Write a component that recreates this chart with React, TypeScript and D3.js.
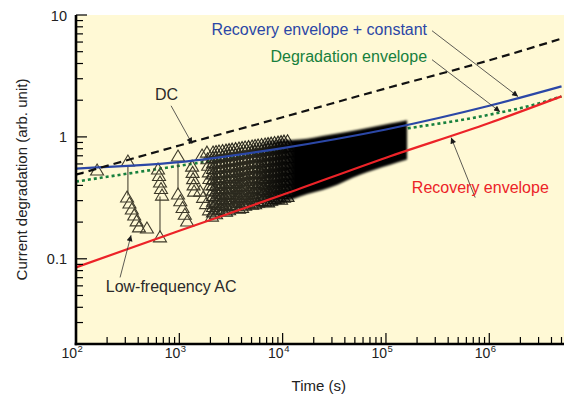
import React from 'react';
import * as d3 from 'd3';

// curves, [time (s), degradation]
const dcCurve = [[1e2, 0.49], [1e3, 0.85], [1e4, 1.45], [1e5, 2.5], [1e6, 4.25], [5e6, 6.4]];
const recoveryPlusConst = [[1e2, 0.55], [1e3, 0.62], [1e4, 0.81], [1e5, 1.15], [1e6, 1.8], [5e6, 2.6]];
const degradationEnv = [[1e2, 0.43], [1e3, 0.58], [1e4, 0.78], [1e5, 1.1], [1e6, 1.52], [3e6, 1.88], [5e6, 2.15]];
const recoveryEnv = [[1e2, 0.085], [1e3, 0.17], [1e4, 0.335], [1e5, 0.675], [1e6, 1.3], [5e6, 2.15]];

// low-frequency AC measurements
const acSingles = [[160, 0.53], [318, 0.628], [486, 0.177], [650, 0.15], [971, 0.69], [1660, 0.703]];
// vertical links [t, from, to]
const acLinks = [[318, 0.57, 0.33], [650, 0.324, 0.164], [971, 0.627, 0.37]];
// stacks [tTop, vTop, tBottom, vBottom, count]
const acStacks = [
  [312, 0.318, 407, 0.181, 6],
  [622, 0.54, 680, 0.33, 5],
  [971, 0.337, 1190, 0.202, 5],
  [1330, 0.57, 1390, 0.356, 5],
  [1590, 0.356, 2070, 0.222, 5],
  [1850, 0.743, 1980, 0.399, 6],
];
// columns of overlapping markers [t, top, bottom]
const cloudColumns = [
  [2120, 0.744, 0.24], [2266, 0.751, 0.232], [2420, 0.758, 0.249], [2620, 0.765, 0.252],
  [2830, 0.772, 0.244], [3028, 0.779, 0.25], [3240, 0.786, 0.263], [3501, 0.794, 0.27],
  [3780, 0.802, 0.258], [4046, 0.81, 0.262], [4330, 0.818, 0.273], [4677, 0.825, 0.285],
  [5060, 0.833, 0.278], [5406, 0.841, 0.28], [5780, 0.849, 0.289], [6248, 0.857, 0.298],
  [6760, 0.865, 0.294], [7223, 0.873, 0.29], [7730, 0.881, 0.3], [8348, 0.89, 0.31],
  [9020, 0.898, 0.311], [9650, 0.906, 0.305], [10300, 0.915, 0.318], [11150, 0.92, 0.322],
];
// the solid black part [t, top edge, bottom edge]
const denseEdges = [
  [4600, 0.87, 0.255], [7550, 0.93, 0.268], [14700, 0.95, 0.325], [28700, 1.04, 0.384],
  [56100, 1.15, 0.49], [110000, 1.285, 0.592], [160000, 1.37, 0.652],
];

const xMajor = [1e2, 1e3, 1e4, 1e5, 1e6];
const yMajor = [0.1, 1, 10];

const BLUE = '#2b47a6';
const RED = '#ec2328';
const GREEN = '#17803d';
const INK = '#2a2a2a';
const BG = '#fff9d5';

const notes = [
  { text: 'DC', color: INK, at: [752, 2.02], anchor: 'middle', from: [832, 1.8], to: [1330, 0.88] },
  { text: 'Recovery envelope + constant', color: BLUE, at: [250000, 6.9], anchor: 'end', from: [279000, 7.43], to: [1.9e6, 2.14] },
  { text: 'Degradation envelope', color: GREEN, at: [250000, 4.14], anchor: 'end', from: [279000, 4.3], to: [1.27e6, 1.61] },
  { text: 'Recovery envelope', color: RED, at: [178000, 0.349], anchor: 'start', from: [730000, 0.318], to: [427000, 0.987] },
  { text: 'Low-frequency AC', color: INK, at: [194, 0.053], anchor: 'start', from: [267, 0.0703], to: [341, 0.156] },
];

const FONT = '"Liberation Sans", Arial, Helvetica, sans-serif';
const tri = 'M0,-6.5L6.5,4.5L-6.5,4.5Z';

export default function App() {
  const width = 564;
  const height = 396;
  const left = 76;
  const top = 15;
  const bottom = 344;

  const x = d3.scaleLog().domain([1e2, 5e6]).range([left, 561.5]);
  const y = d3.scaleLog().domain([0.02, 10]).range([bottom, top]);

  const line = d3
    .line<number[]>()
    .x((d) => x(d[0]))
    .y((d) => y(d[1]))
    .curve(d3.curveMonotoneX);

  const area = d3
    .area<number[]>()
    .x((d) => x(d[0]))
    .y0((d) => y(d[2]))
    .y1((d) => y(d[1]))
    .curve(d3.curveMonotoneX);

  const markers: [number, number][] = [];
  acSingles.forEach(([t, v]) => markers.push([x(t), y(v)]));
  acStacks.forEach(([t0, v0, t1, v1, n]) => {
    for (let i = 0; i < n; i++) {
      const f = i / (n - 1);
      markers.push([x(t0) + (x(t1) - x(t0)) * f, y(v0) + (y(v1) - y(v0)) * f]);
    }
  });
  const cloud: [number, number][] = [];
  cloudColumns.forEach(([t, hi, lo]) => {
    const y0 = y(hi);
    const y1 = y(lo);
    const n = Math.max(2, Math.round((y1 - y0) / 5.5) + 1);
    for (let i = 0; i < n; i++) {
      cloud.push([x(t), y0 + ((y1 - y0) * i) / (n - 1)]);
    }
  });

  const xTicks = x.ticks().filter((t) => t <= 5e6);
  const yTicks = y.ticks();
  const isMajor = (t: number) => Math.abs(Math.log10(t) - Math.round(Math.log10(t))) < 1e-6;

  return (
    <div style={{ position: 'absolute', left: 0, top: 0 }}>
      <svg width={width} height={height} style={{ display: 'block', fontFamily: FONT }}>
        <defs>
          <marker id="arrowHead" viewBox="0 0 10 10" refX="10" refY="5" markerWidth="9" markerHeight="6"
            markerUnits="userSpaceOnUse" orient="auto">
            <path d="M0,0L10,5L0,10Z" fill="#1a1a1a" />
          </marker>
          <linearGradient id="denseFade" gradientUnits="userSpaceOnUse" x1={x(4600)} x2={x(13000)} y1={0} y2={0}>
            <stop offset="0" stopColor="#000" stopOpacity={0} />
            <stop offset="0.5" stopColor="#000" stopOpacity={0.55} />
            <stop offset="1" stopColor="#000" stopOpacity={1} />
          </linearGradient>
          <filter id="fuzz" x="-5%" y="-10%" width="110%" height="120%">
            <feGaussianBlur stdDeviation="0.9" />
          </filter>
        </defs>

        <rect x={left} y={top} width={width - left} height={bottom - top} fill={BG} />

        <path d={line(degradationEnv) ?? ''} fill="none" stroke={GREEN} strokeWidth={2.6} strokeDasharray="3,3" />

        {acLinks.map(([t, a, b], i) => (
          <line key={'l' + i} x1={x(t)} x2={x(t)} y1={y(a)} y2={y(b)} stroke="#4a4635" strokeWidth={1.1} />
        ))}
        {markers.map(([px, py], i) => (
          <path key={'m' + i} d={tri} transform={`translate(${px},${py})`} fill="none" stroke="#3e3a2a" strokeWidth={1.1} />
        ))}
        {cloud.map(([px, py], i) => (
          <path key={'c' + i} d={tri} transform={`translate(${px},${py})`} fill="none" stroke="#2c2a1f" strokeWidth={1.15} />
        ))}

        <path d={area(denseEdges) ?? ''} fill="url(#denseFade)" filter="url(#fuzz)" />

        <path d={line(recoveryEnv) ?? ''} fill="none" stroke={RED} strokeWidth={2.2} />
        <path d={line(recoveryPlusConst) ?? ''} fill="none" stroke={BLUE} strokeWidth={2.2} />
        <path d={line(dcCurve) ?? ''} fill="none" stroke="#111" strokeWidth={2.2} strokeDasharray="8,5" />

        {notes.map((n) => (
          <g key={n.text}>
            <line x1={x(n.from[0])} y1={y(n.from[1])} x2={x(n.to[0])} y2={y(n.to[1])}
              stroke="#333" strokeWidth={0.8} markerEnd="url(#arrowHead)" />
            <text x={x(n.at[0])} y={y(n.at[1])} textAnchor={n.anchor} fontSize={16} fill={n.color}>
              {n.text}
            </text>
          </g>
        ))}

        {/* axes */}
        {yTicks.map((t, i) => (
          <line key={'yt' + i} x1={left} x2={left + (isMajor(t) ? 11 : 7)} y1={y(t)} y2={y(t)} stroke="#000" strokeWidth={1.2} />
        ))}
        {xTicks.map((t, i) => (
          <line key={'xt' + i} x1={x(t)} x2={x(t)} y1={bottom} y2={bottom - (isMajor(t) ? 11 : 7)} stroke="#000" strokeWidth={1.2} />
        ))}
        <line x1={left} x2={left} y1={top} y2={bottom + 1.3} stroke="#000" strokeWidth={2.6} />
        <line x1={left - 1.3} x2={width} y1={bottom} y2={bottom} stroke="#000" strokeWidth={2.6} />

        {yMajor.map((t) => (
          <text key={'yl' + t} x={67} y={y(t) + 5.5} textAnchor="end" fontSize={14.5} fill="#222">
            {t === 0.1 ? '0.1' : String(t)}
          </text>
        ))}
        {xMajor.map((t) => (
          <g key={'xl' + t}>
            <text x={x(t) + 1} y={bottom + 13.5} textAnchor="end" fontSize={14} fill="#222">10</text>
            <text x={x(t) + 1.5} y={bottom + 8} fontSize={9.5} fill="#222">{Math.round(Math.log10(t))}</text>
          </g>
        ))}

        <text x={(left + 561.5) / 2} y={391} textAnchor="middle" fontSize={15} fill="#222">Time (s)</text>
        <text transform={`translate(27,${(top + bottom) / 2}) rotate(-90)`} textAnchor="middle" fontSize={15} fill="#222">
          Current degradation (arb. unit)
        </text>
      </svg>
    </div>
  );
}
